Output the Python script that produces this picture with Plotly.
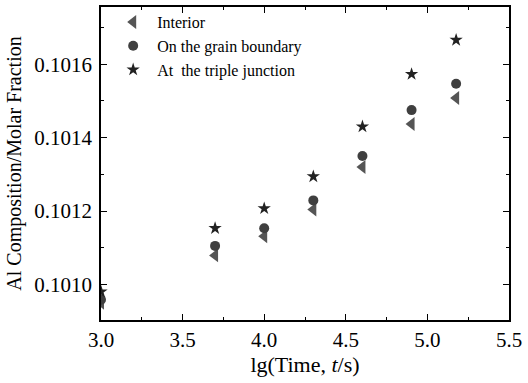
import plotly.graph_objects as go

lg_time = [3.0, 3.699, 4.0, 4.301, 4.602, 4.903, 5.176]
interior = [0.10095, 0.101079, 0.101131, 0.101204, 0.10132, 0.101437, 0.101508]
boundary = [0.100958, 0.101105, 0.101153, 0.101229, 0.10135, 0.101475, 0.101547]
triple = [0.10098, 0.101153, 0.101207, 0.101294, 0.10143, 0.101573, 0.101666]
names = ["Interior", "On the grain boundary", "At  the triple junction"]

font = "Liberation Serif, Times New Roman, serif"
fig = go.Figure()
fig.add_trace(go.Scatter(x=lg_time, y=interior, mode="markers", name=names[0],
                         marker=dict(symbol="triangle-left", size=12, color="#555555")))
fig.add_trace(go.Scatter(x=lg_time, y=boundary, mode="markers", name=names[1],
                         marker=dict(symbol="circle", size=10, color="#3f3f3f")))
fig.add_trace(go.Scatter(x=lg_time, y=triple, mode="markers", name=names[2],
                         marker=dict(symbol="star", size=10, color="#222222")))

axis_common = dict(showline=True, linecolor="black", linewidth=1.5, mirror="allticks",
                   ticks="inside", ticklen=6, tickwidth=1.2, tickcolor="black",
                   showgrid=False, zeroline=False,
                   tickfont=dict(family=font, size=21, color="black"),
                   minor=dict(ticks="inside", ticklen=3, tickwidth=1, tickcolor="black"))

fig.update_layout(
    width=528, height=383,
    margin=dict(l=101, r=19, t=5, b=63),
    plot_bgcolor="white", paper_bgcolor="white",
    font=dict(family=font, color="black"),
    xaxis=dict(range=[3.0, 5.5], dtick=0.5, tickformat=".1f",
               title=dict(text="lg(Time, <i>t</i>/s)", font=dict(family=font, size=22), standoff=2),
               **axis_common),
    yaxis=dict(range=[0.100903, 0.101756], tick0=0.1010, dtick=0.0002, tickformat=".4f",
               ticklabelstandoff=3,
               title=dict(text="Al Composition/Molar Fraction", font=dict(family=font, size=20), standoff=7),
               **axis_common),
    legend=dict(x=0.02, y=1.006, xanchor="left", yanchor="top", bgcolor="rgba(0,0,0,0)",
                font=dict(family=font, size=16, color="black"), itemwidth=38, tracegroupgap=0),
    showlegend=True,
)
fig.update_xaxes(minor=dict(dtick=0.25))
fig.update_yaxes(minor=dict(dtick=0.0001))

fig.write_html("out.html")
